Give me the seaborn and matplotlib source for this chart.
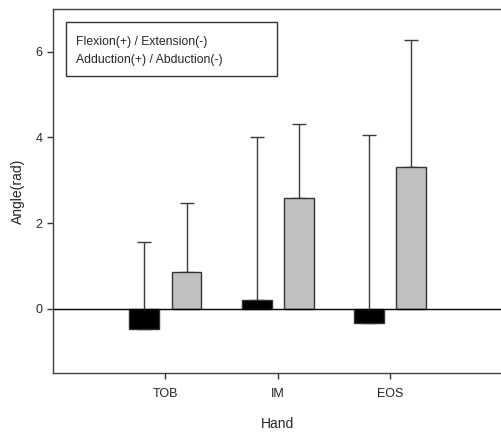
import pandas as pd
import matplotlib
matplotlib.use("Agg")
import matplotlib.pyplot as plt
from matplotlib.patches import Rectangle
import seaborn as sns

# data
hands = ["TOB", "IM", "EOS"]
flex_mean = [-0.47, 0.21, -0.33]
flex_top = [1.56, 4.00, 4.06]
abd_mean = [0.86, 2.58, 3.30]
abd_top = [2.46, 4.32, 6.28]
series = ["Flexion", "Adduction"]

df = pd.DataFrame({
    "Hand": hands * 2,
    "series": [series[0]] * 3 + [series[1]] * 3,
    "value": flex_mean + abd_mean,
})

sns.set_style("ticks")
plt.rcParams["font.family"] = ["Liberation Sans", "DejaVu Sans"]

fig = plt.figure(figsize=(5.01, 4.33), dpi=100)
ax = fig.add_axes([0.106, 0.139, 0.897, 0.840])

sns.barplot(data=df, x="Hand", y="value", hue="series", order=hands,
            hue_order=series, palette=["black", "#c0c0c0"], width=0.75,
            gap=0.29, edgecolor="#333333", linewidth=1, legend=False,
            errorbar=None, ax=ax, zorder=3)

# one-sided error bars from the bar centres
tops = [flex_top, abd_top]
for cont, top, mean in zip(ax.containers, tops, [flex_mean, abd_mean]):
    for bar, t, m in zip(cont, top, mean):
        xc = bar.get_x() + bar.get_width() / 2
        ax.errorbar(xc, m, yerr=[[0], [t - m]], fmt="none", ecolor="#3a3a3a",
                    elinewidth=1, capsize=5, capthick=1, zorder=2)

ax.axhline(0, color="black", lw=1, zorder=4)

ax.set_xlim(-1, 3)
ax.set_ylim(-1.5, 7)
ax.set_yticks([0, 2, 4, 6])
ax.set_xlabel("Hand", fontsize=10, labelpad=12)
ax.set_ylabel("Angle(rad)", fontsize=10, labelpad=8)
ax.tick_params(labelsize=9, length=4, width=1, color="#333333")
ax.tick_params(axis="x", pad=7)
ax.spines["right"].set_visible(False)
for s in ax.spines.values():
    s.set_color("#404040")
    s.set_linewidth(1)

# annotation box
ax.add_patch(Rectangle((0.029, 0.816), 0.469, 0.148, transform=ax.transAxes,
                       fc="white", ec="#333333", lw=1, zorder=5))
ax.text(0.051, 0.909, "Flexion(+) / Extension(-)", transform=ax.transAxes,
        fontsize=8.8, va="center", zorder=6)
ax.text(0.051, 0.860, "Adduction(+) / Abduction(-)", transform=ax.transAxes,
        fontsize=8.8, va="center", zorder=6)

fig.savefig("out.png", dpi=100)
